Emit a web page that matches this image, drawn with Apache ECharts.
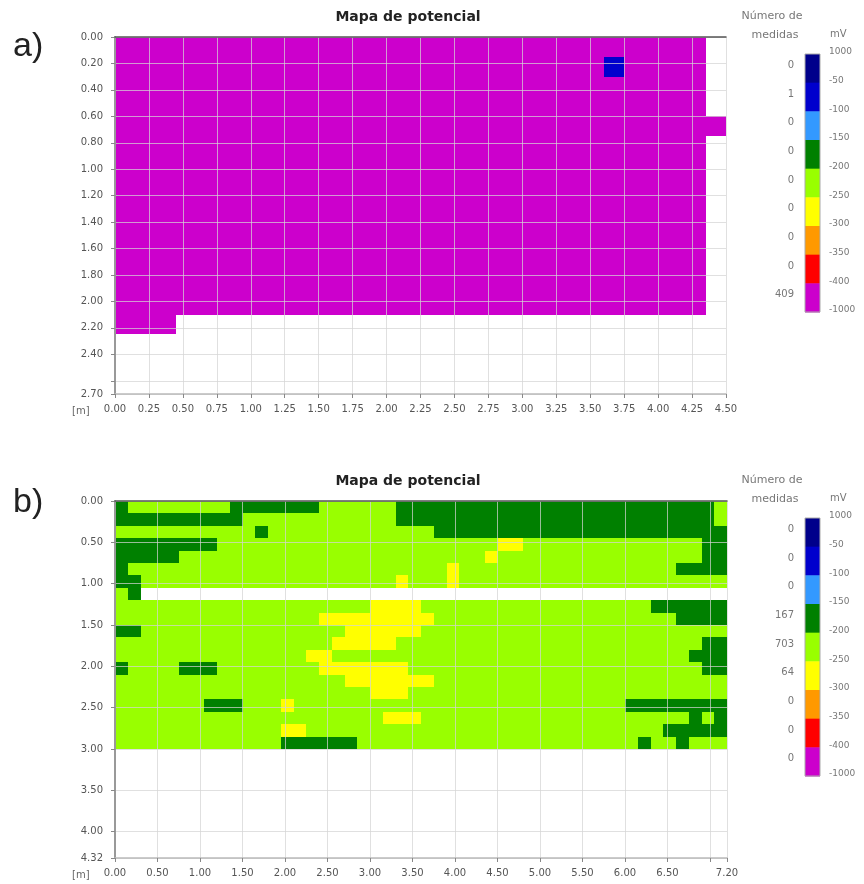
<!DOCTYPE html>
<html><head><meta charset="utf-8">
<script src="https://cdn.jsdelivr.net/npm/echarts@6/dist/echarts.min.js"></script>
<style>html,body{margin:0;padding:0;background:#fff}#c{width:864px;height:884px}</style>
</head><body><div id="c"></div>
<script>
// ---------------- DATA ----------------
const CELL = 0.15; // measurement cell size in metres
const classCodes  = ['N','B','C','G','L','Y','O','R','M'];
const classColors = ['#00008b','#0000cd','#3399ff','#008000','#99ff00','#ffff00','#ff9900','#ff0000','#cc00cc'];
const scaleLabels = ['1000','-50','-100','-150','-200','-250','-300','-350','-400','-1000'];
const countsA = ['0','1','0','0','0','0','0','0','409'];
const countsB = ['0','0','0','167','703','64','0','0','0'];

const xLabelsA = ['0.00','0.25','0.50','0.75','1.00','1.25','1.50','1.75','2.00','2.25','2.50','2.75','3.00','3.25','3.50','3.75','4.00','4.25','4.50'];
const yLabelsA = ['0.00','0.20','0.40','0.60','0.80','1.00','1.20','1.40','1.60','1.80','2.00','2.20','2.40','2.70'];
const xLabelsB = ['0.00','0.50','1.00','1.50','2.00','2.50','3.00','3.50','4.00','4.50','5.00','5.50','6.00','6.50','7.20'];
const yLabelsB = ['0.00','0.50','1.00','1.50','2.00','2.50','3.00','3.50','4.00','4.32'];

// cell classes per row (row = 0.15 m in depth, column = 0.15 m across); '.' = no measurement
const rowsA = [
  'MMMMMMMMMM'+'MMMMMMMMMM'+'MMMMMMMMM'+'.',
  'MMMMMMMMMM'+'MMMMMMMMMM'+'MMMM'+'B'+'MMMM'+'.',
  'MMMMMMMMMM'+'MMMMMMMMMM'+'MMMMMMMMM'+'.',
  'MMMMMMMMMM'+'MMMMMMMMMM'+'MMMMMMMMM'+'.',
  'MMMMMMMMMM'+'MMMMMMMMMM'+'MMMMMMMMMM',
  'MMMMMMMMMM'+'MMMMMMMMMM'+'MMMMMMMMM'+'.',
  'MMMMMMMMMM'+'MMMMMMMMMM'+'MMMMMMMMM'+'.',
  'MMMMMMMMMM'+'MMMMMMMMMM'+'MMMMMMMMM'+'.',
  'MMMMMMMMMM'+'MMMMMMMMMM'+'MMMMMMMMM'+'.',
  'MMMMMMMMMM'+'MMMMMMMMMM'+'MMMMMMMMM'+'.',
  'MMMMMMMMMM'+'MMMMMMMMMM'+'MMMMMMMMM'+'.',
  'MMMMMMMMMM'+'MMMMMMMMMM'+'MMMMMMMMM'+'.',
  'MMMMMMMMMM'+'MMMMMMMMMM'+'MMMMMMMMM'+'.',
  'MMMMMMMMMM'+'MMMMMMMMMM'+'MMMMMMMMM'+'.',
  'MMM'+'..........'+'..........'+'.......'
];
const rowsB = [
  'G'+'LLLLLLLL'+'GGGGGGG'+'LLLLLL'+'GGGGGGGGGG'+'GGGGGGGGGG'+'GGGGG'+'L',
  'GGGGGGGGGG'+'LLLLLLLLLLLL'+'GGGGGGGGGG'+'GGGGGGGGGG'+'GGGGG'+'L',
  'LLLLLLLLLLL'+'G'+'LLLLLLLLLLLLL'+'GGGGGGGGGG'+'GGGGGGGGGG'+'GGG',
  'GGGGGGGG'+'LLLLLLLLLL'+'LLLLLLLLLL'+'LL'+'YY'+'LLLLLLLLLL'+'LLLL'+'GG',
  'GGGGG'+'LLLLLLLLLL'+'LLLLLLLLLL'+'LLLL'+'Y'+'LLLLLLLLLL'+'LLLLLL'+'GG',
  'G'+'LLLLLLLLLL'+'LLLLLLLLLL'+'LLLLL'+'Y'+'LLLLLLLLLL'+'LLLLLLL'+'GGGG',
  'GG'+'LLLLLLLLLL'+'LLLLLLLLLL'+'Y'+'LLL'+'Y'+'LLLLLLLLLL'+'LLLLLLLLLL'+'L',
  'L'+'G'+'..........'+'..........'+'..........'+'..........'+'......',
  'LLLLLLLLLL'+'LLLLLLLLLL'+'YYYY'+'LLLLLLLLLL'+'LLLLLLLL'+'GGGGGG',
  'LLLLLLLLLL'+'LLLLLL'+'YYYYYYYYY'+'LLLLLLLLLL'+'LLLLLLLLL'+'GGGG',
  'GG'+'LLLLLLLLLL'+'LLLLLL'+'YYYYYY'+'LLLLLLLLLL'+'LLLLLLLLLL'+'LLLL',
  'LLLLLLLLLL'+'LLLLLLL'+'YYYYY'+'LLLLLLLLLL'+'LLLLLLLLLL'+'LLLL'+'GG',
  'LLLLLLLLLL'+'LLLLL'+'YY'+'LLLLLLLLLL'+'LLLLLLLLLL'+'LLLLLLLL'+'GGG',
  'G'+'LLLL'+'GGG'+'LLLLLLLL'+'YYYYYYY'+'LLLLLLLLLL'+'LLLLLLLLLL'+'LLL'+'GG',
  'LLLLLLLLLL'+'LLLLLLLL'+'YYYYYYY'+'LLLLLLLLLL'+'LLLLLLLLLL'+'LLL',
  'LLLLLLLLLL'+'LLLLLLLLLL'+'YYY'+'LLLLLLLLLL'+'LLLLLLLLLL'+'LLLLL',
  'LLLLLLL'+'GGG'+'LLL'+'Y'+'LLLLLLLLLL'+'LLLLLLLLLL'+'LLLLLL'+'GGGGGGGG',
  'LLLLLLLLLL'+'LLLLLLLLLL'+'L'+'YYY'+'LLLLLLLLLL'+'LLLLLLLLLL'+'L'+'G'+'L'+'G',
  'LLLLLLLLLL'+'LLL'+'YY'+'LLLLLLLLLL'+'LLLLLLLLLL'+'LLLLLLLL'+'GGGGG',
  'LLLLLLLLLL'+'LLL'+'GGGGGG'+'LLLLLLLLLL'+'LLLLLLLLLL'+'LL'+'G'+'LL'+'G'+'LLL'
];

// ---------------- BUILD ----------------
function toCells(rows) {
  const out = [];
  rows.forEach((row, r) => {
    for (let i = 0; i < row.length; i++) {
      const k = classCodes.indexOf(row[i]);
      if (k >= 0) out.push([i * CELL, r * CELL, k]);
    }
  });
  return out;
}
function renderCell(params, api) {
  const x = api.value(0), y = api.value(1), k = api.value(2);
  const a = api.coord([x, y]), b = api.coord([x + CELL, y + CELL]);
  const x0 = Math.round(Math.min(a[0], b[0])), x1 = Math.round(Math.max(a[0], b[0]));
  const y0 = Math.round(Math.min(a[1], b[1])), y1 = Math.round(Math.max(a[1], b[1]));
  return { type: 'rect', shape: { x: x0, y: y0, width: x1 - x0, height: y1 - y0 }, style: { fill: classColors[k] } };
}
const FONT = '"DejaVu Sans", sans-serif';
const gridLine = { show: true, lineStyle: { color: 'rgba(212,212,212,0.72)', width: 1 } };
function fmt(labels) { return v => { const s = (+v).toFixed(2); return labels.indexOf(s) >= 0 ? s : ''; }; }
const lbl = (labels, margin) => ({ show: true, color: '#555', fontFamily: FONT, fontSize: 10, margin: margin, showMinLabel: true, showMaxLabel: true, formatter: fmt(labels) });
const tick = { show: true, length: 4, lineStyle: { color: '#888' } };

function txt(x, y, s, o) {
  o = o || {};
  const al = o.align || 'left', va = o.va || 'middle';
  return { type: 'text', x: x, y: y, silent: true, z: 10,
    style: { text: s, fill: o.fill || '#666', font: o.font || ('10px ' + FONT),
      align: al, textAlign: al, verticalAlign: va, textVerticalAlign: va } };
}
function legend(top, counts) {
  const els = [];
  const bx = 805, bw = 15, segH = 258 / 9;
  counts.forEach((c, i) => {
    els.push({ type: 'rect', silent: true, z: 10, shape: { x: bx, y: top + i * segH, width: bw, height: segH + 0.5 }, style: { fill: classColors[i] } });
    els.push(txt(794, top + i * segH + segH / 2 - 3, c, { align: 'right', fill: '#777' }));
  });
  els.push({ type: 'rect', silent: true, z: 11, shape: { x: bx, y: top, width: bw, height: 258 }, style: { fill: 'none', stroke: '#aaa', lineWidth: 1 } });
  scaleLabels.forEach((s, i) => els.push(txt(829, top + i * segH - 2, s, { fill: '#777', font: '9px ' + FONT })));
  els.push(txt(772, top - 38, 'Número de', { align: 'center', fill: '#777', font: '11px ' + FONT }));
  els.push(txt(775, top - 19, 'medidas', { align: 'center', fill: '#777', font: '11px ' + FONT }));
  els.push(txt(830, top - 20, 'mV', { fill: '#777', font: '10px ' + FONT }));
  return els;
}

const chart = echarts.init(document.getElementById('c'), null, { renderer: 'canvas' });
chart.setOption({
  animation: false,
  backgroundColor: '#fff',
  grid: [
    { left: 115, top: 37, width: 611, height: 357 },
    { left: 115, top: 501, width: 612, height: 357 }
  ],
  xAxis: [
    { gridIndex: 0, type: 'value', min: 0, max: 4.5, interval: 0.25, position: 'bottom', zlevel: 1,
      axisLine: { show: true, onZero: false, lineStyle: { color: '#bbb', width: 1.5 } },
      axisTick: tick, axisLabel: lbl(xLabelsA, 10), splitLine: gridLine },
    { gridIndex: 1, type: 'value', min: 0, max: 7.2, interval: 0.5, position: 'bottom', zlevel: 1,
      axisLine: { show: true, onZero: false, lineStyle: { color: '#bbb', width: 1.5 } },
      axisTick: tick, axisLabel: lbl(xLabelsB, 10), splitLine: gridLine },
    { gridIndex: 0, type: 'value', min: 0, max: 4.5, position: 'top', zlevel: 1, z: 4,
      axisLine: { show: true, onZero: false, lineStyle: { color: '#555', width: 1.5 } },
      axisTick: { show: false }, axisLabel: { show: false }, splitLine: { show: false } },
    { gridIndex: 1, type: 'value', min: 0, max: 7.2, position: 'top', zlevel: 1, z: 4,
      axisLine: { show: true, onZero: false, lineStyle: { color: '#555', width: 1.5 } },
      axisTick: { show: false }, axisLabel: { show: false }, splitLine: { show: false } }
  ],
  yAxis: [
    { gridIndex: 0, type: 'value', min: 0, max: 2.7, interval: 0.2, inverse: true, zlevel: 1,
      axisLine: { show: true, onZero: false, lineStyle: { color: '#999', width: 2 } },
      axisTick: tick, axisLabel: lbl(yLabelsA, 12), splitLine: gridLine },
    { gridIndex: 1, type: 'value', min: 0, max: 4.32, interval: 0.5, inverse: true, zlevel: 1,
      axisLine: { show: true, onZero: false, lineStyle: { color: '#999', width: 2 } },
      axisTick: tick, axisLabel: lbl(yLabelsB, 12), splitLine: gridLine }
  ],
  series: [
    { type: 'custom', xAxisIndex: 0, yAxisIndex: 0, z: 2, silent: true, clip: true,
      renderItem: renderCell, data: toCells(rowsA) },
    { type: 'custom', xAxisIndex: 1, yAxisIndex: 1, z: 2, silent: true, clip: true,
      renderItem: renderCell, data: toCells(rowsB) }
  ],
  graphic: [].concat(
    [
      txt(13, 47, 'a)', { fill: '#222', font: '34px "Liberation Sans", Arial, sans-serif' }),
      txt(13, 503, 'b)', { fill: '#222', font: '34px "Liberation Sans", Arial, sans-serif' }),
      txt(408, 17, 'Mapa de potencial', { align: 'center', fill: '#222', font: 'bold 14px ' + FONT }),
      txt(408, 481, 'Mapa de potencial', { align: 'center', fill: '#222', font: 'bold 14px ' + FONT }),
      txt(72, 411, '[m]', { fill: '#666' }),
      txt(72, 875, '[m]', { fill: '#666' })
    ],
    legend(54, countsA),
    legend(518, countsB)
  )
});
</script>
</body></html>
